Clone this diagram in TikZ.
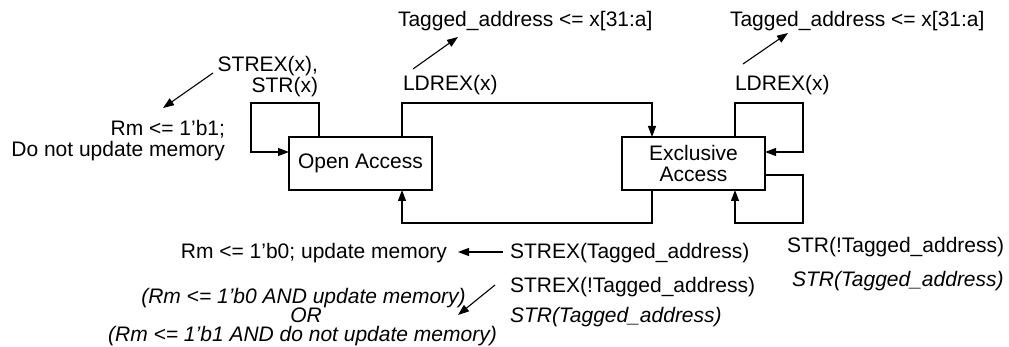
\documentclass[tikz,border=0pt]{standalone}
\usepackage{fontspec}
\setmainfont{Liberation Sans}
\usetikzlibrary{arrows.meta}
\begin{document}
\begin{tikzpicture}[x=1pt,y=-1pt,
  every node/.style={font=\fontsize{21}{21}\selectfont, inner sep=0pt, outer sep=0pt},
  statebox/.style={draw, line width=1.1pt, minimum width=143pt, minimum height=53pt, align=center},
  conn/.style={line width=1.1pt, -{Triangle[length=11pt,width=8pt]}},
  lbl/.style={text=black},
  itl/.style={font=\fontsize{21}{21}\selectfont\itshape}]
\useasboundingbox (0,0) rectangle (1009,347);

% states
\node[statebox] (open) at (360.5,163.5) {Open Access};
\node[statebox, font=\fontsize{21}{21}\selectfont] (excl) at (693.5,163.5) {Exclusive\\[0pt]Access};

% transitions
\draw[conn] ([xshift=30pt]open.north west) -- ++(0,-34) -- ++(-68,0) |- ([yshift=11.5pt]open.west);
\draw[conn] ([xshift=113pt]open.north west) -- ++(0,-34) -| ([xshift=30pt]excl.north west);
\draw[conn] ([xshift=113pt]excl.north west) -- ++(0,-34) -- ++(68,0) |- ([yshift=11.5pt]excl.east);
\draw[conn] ([yshift=-11.5pt]excl.east) -- ++(38,0) -- ++(0,48) -| ([xshift=113pt]excl.south west);
\draw[conn] ([xshift=30pt]excl.south west) -- ++(0,33) -| ([xshift=113pt]open.south west);

% labels top-left
\node[anchor=base east] (strexx) at (318,71.5) {STREX(x),};
\node[anchor=base east] (strx) at (318,93) {STR(x)};
\node[anchor=base east] (rm1) at (225,136) {Rm <= 1’b1;};
\node[anchor=base east] (donot) at (225,157) {Do not update memory};

% labels top-middle
\node[anchor=base west] (ldrex1) at (403,91) {LDREX(x)};
\node[anchor=base west] (tag1) at (398,27) {Tagged\_address <= x[31:a]};

% labels top-right
\node[anchor=base west] (ldrex2) at (735,91) {LDREX(x)};
\node[anchor=base west] (tag2) at (730,27) {Tagged\_address <= x[31:a]};

% labels bottom
\node[anchor=base west] (strexta) at (510,259) {STREX(Tagged\_address)};
\node[anchor=base east] (rm0) at (447,259) {Rm <= 1’b0; update memory};
\node[anchor=base west] (strexnta) at (510,293) {STREX(!Tagged\_address)};
\node[anchor=base west, itl] (strta1) at (510,323) {STR(Tagged\_address)};
\node[anchor=base, itl] (alt1) at (303.5,303) {(Rm <= 1’b0 AND update memory)};
\node[anchor=base, itl] (altor) at (306,322) {OR};
\node[anchor=base, itl] (alt2) at (302.5,341) {(Rm <= 1’b1 AND do not update memory)};

% labels bottom-right
\node[anchor=base west] (strnta) at (787,253) {STR(!Tagged\_address)};
\node[anchor=base west, itl] (strta2) at (792,287) {STR(Tagged\_address)};

% annotation arrows
\coordinate (a1s) at (213,73);  \coordinate (a1e) at (163,108);
\coordinate (a2s) at (413,69);  \coordinate (a2e) at (458,37);
\coordinate (a3s) at (743,64);  \coordinate (a3e) at (788,33);
\coordinate (a4s) at (503,252); \coordinate (a4e) at (458,252);
\coordinate (a5s) at (495,285); \coordinate (a5e) at (458,315);
\draw[conn] (a1s) -- (a1e);
\draw[conn] (a2s) -- (a2e);
\draw[conn] (a3s) -- (a3e);
\draw[conn] (a4s) -- (a4e);
\draw[conn] (a5s) -- (a5e);
\end{tikzpicture}
\end{document}
